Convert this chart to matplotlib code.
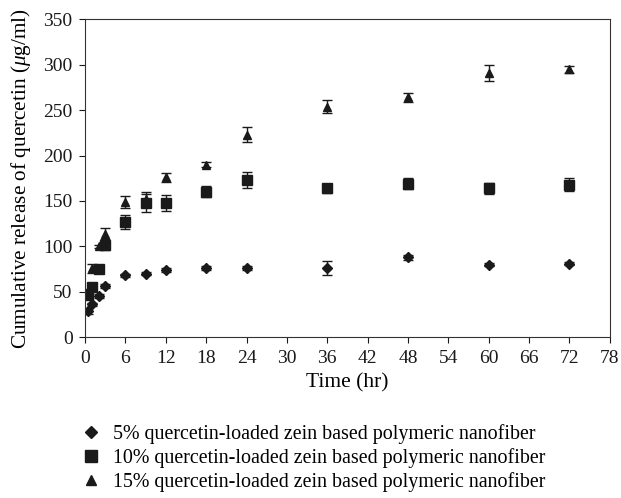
import numpy as np
import matplotlib.pyplot as plt
from matplotlib.lines import Line2D

plt.rcParams['font.family'] = ['Liberation Serif', 'DejaVu Serif']
plt.rcParams['mathtext.fontset'] = 'custom'
plt.rcParams['mathtext.it'] = 'Liberation Serif:italic'
plt.rcParams['mathtext.rm'] = 'Liberation Serif'

# sampling times (hr)
time_hr = [0.5, 1, 2, 3, 6, 9, 12, 18, 24, 36, 48, 60, 72]

# cumulative release (ug/ml)
release_5 = [29, 36, 45, 56, 68, 70, 74, 76, 76, 76, 88, 80, 81]
err_5 = [3, 2, 2, 2, 2, 2, 2, 2, 2, 8, 3, 2, 2]

release_10 = [46, 55, 75, 101, 127, 148, 148, 160, 173, 164, 169, 164, 168]
err_10 = [3, 3, 3, 5, 8, 10, 9, 6, 9, 5, 6, 6, 7]

release_15 = [50, 76, 100, 114, 149, 152, 176, 190, 223, 254, 264, 291, 295]
err_15 = [3, 5, 2, 6, 7, 8, 5, 3, 8, 7, 5, 9, 4]

labels = ['5% quercetin-loaded zein based polymeric nanofiber',
          '10% quercetin-loaded zein based polymeric nanofiber',
          '15% quercetin-loaded zein based polymeric nanofiber']

fig = plt.figure(figsize=(6.21, 4.98), dpi=100)
ax = fig.add_axes([0.137, 0.323, 0.845, 0.638])

series = [(release_5, err_5, 'D', 5), (release_10, err_10, 's', 7), (release_15, err_15, '^', 6)]
for vals, errs, mk, ms in series:
    ax.errorbar(time_hr, vals, yerr=errs, fmt=mk, color='#1a1a1a', ms=ms,
                ecolor='#1a1a1a', elinewidth=1, capsize=3.5, capthick=1)

ax.set_xlim(0, 78)
ax.set_ylim(0, 350)
ax.set_xticks(np.arange(0, 79, 6))
ax.set_yticks(np.arange(0, 351, 50))
ax.tick_params(direction='out', length=4, labelsize=14, colors='#1a1a1a', pad=5)
for s in ax.spines.values():
    s.set_color('#333333')
ax.set_xlabel('Time (hr)', fontsize=15.5, labelpad=5)
ax.set_ylabel(r'Cumulative release of quercetin ($\mu$g/ml)', fontsize=15.3, labelpad=7)

handles = [Line2D([], [], marker=m, ls='none', color='#1a1a1a', ms=s)
           for m, s in [('D', 6), ('s', 8), ('^', 7)]]
fig.legend(handles, labels, loc='upper left', bbox_to_anchor=(0.130, 0.149),
           frameon=False, fontsize=14.4, handletextpad=0.6, labelspacing=0.22,
           handlelength=1.0, borderaxespad=0, borderpad=0)

fig.savefig('out.png', dpi=100)
